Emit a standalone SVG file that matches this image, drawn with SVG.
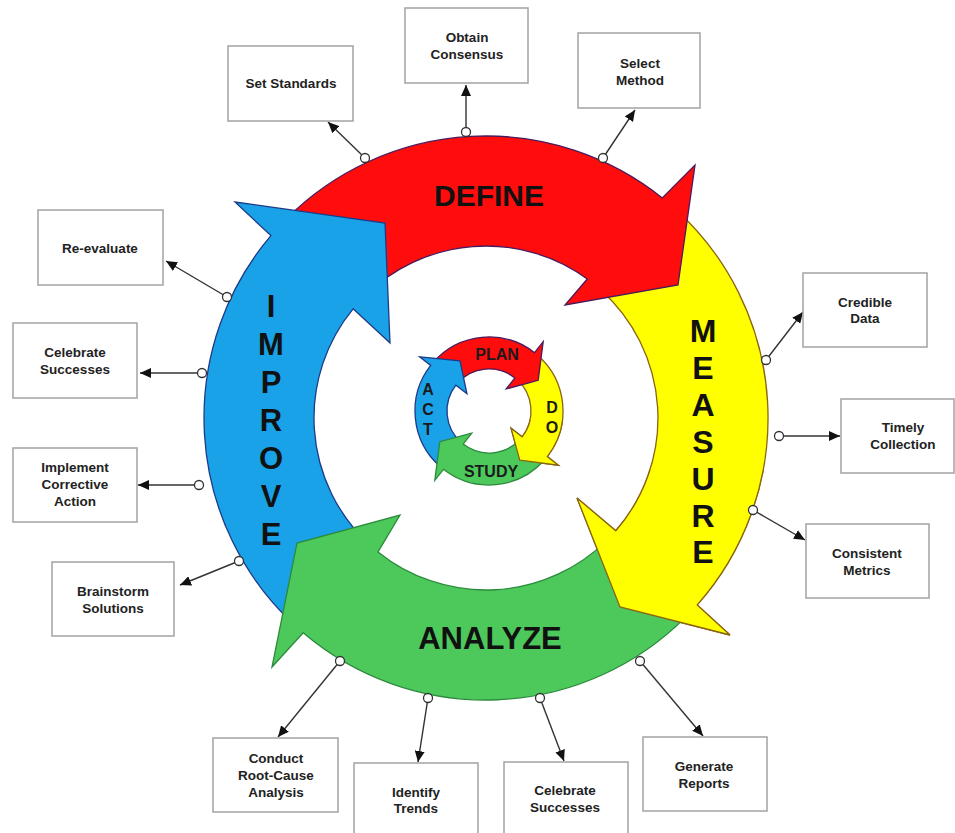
<svg xmlns="http://www.w3.org/2000/svg" width="955" height="833" viewBox="0 0 955 833">
<style>
.bg{fill:#ffffff}
.box rect{fill:#ffffff;stroke:#a3a3a3;stroke-width:1.5}
.box text{font-family:"Liberation Sans",Arial,sans-serif;font-weight:bold;font-size:13.5px;fill:#222;text-anchor:middle}
.red{fill:#ff0d0d;stroke:#4a1a5a;stroke-width:1.3;stroke-linejoin:miter}
.yel{fill:#ffff00;stroke:#8a6410;stroke-width:1.3}
.grn{fill:#4dc95c;stroke:#2c8a3c;stroke-width:1.3}
.blu{fill:#19a2e8;stroke:#1e3a86;stroke-width:1.3}
.big{font-family:"Liberation Sans",Arial,sans-serif;font-weight:bold;fill:#111;text-anchor:middle}
.sm{font-family:"Liberation Sans",Arial,sans-serif;font-weight:bold;font-size:16px;fill:#1a1a1a;text-anchor:middle}
.con line{stroke:#333;stroke-width:1.4;marker-end:url(#ah)}
.con circle{fill:#fff;stroke:#333;stroke-width:1.3}
</style>
<defs>
<marker id="ah" markerUnits="userSpaceOnUse" markerWidth="12" markerHeight="10" refX="11" refY="5" orient="auto">
<path d="M0,0 L11,5 L0,10 Z" fill="#111"/>
</marker>
<path id="bigY" class="yel" d="M674.7,208.4 A282,282 0 0 1 697.2,604.9 L730,635 L620,607 L577,498 L615.8,530.8 A172,172 0 0 0 601.1,290.2 Z"/>
<path id="smY" class="yel" d="M537.55,355.15 A74,74 0 0 1 547.31,456.56 L558.34,465.18 L519.73,460.18 L511.06,428.24 L522.1,436.86 A42,42 0 0 0 516.56,379.3 Z"/>
<clipPath id="clipBigY"><rect x="540" y="470" width="240" height="190"/></clipPath>
<clipPath id="clipSmY"><rect x="505" y="420" width="62" height="56"/></clipPath>
</defs>
<rect class="bg" x="0" y="0" width="955" height="833"/>

<g id="cycle">
<use href="#bigY"/>
<path id="define-arrow" class="red" d="M286.6,218.6 A282,282 0 0 1 662.3,197.9 L695,165 L678,285 L565,305 L587.3,279 A172,172 0 0 0 364.4,296.4 Z"/>
<path id="improve-arrow" class="blu" d="M293.7,624.2 A282,282 0 0 1 270.9,235.6 L235,202 L385,223 L390,343 L353.1,308.8 A172,172 0 0 0 368.7,543.8 Z"/>
<path id="analyze-arrow" class="grn" d="M685.4,617.4 A282,282 0 0 1 303.2,632.7 L272,667 L297,543 L400,515 L378,551.9 A172,172 0 0 0 607.6,539.6 Z"/>
<use href="#bigY" clip-path="url(#clipBigY)"/>
</g>

<g id="pdsa">
<use href="#smY"/>
<path class="red" d="M433.15,362.45 A74,74 0 0 1 534.56,352.69 L543.18,341.66 L538.18,380.27 L506.24,388.94 L514.86,377.9 A42,42 0 0 0 457.3,383.44 Z"/>
<path class="blu" d="M440.45,466.85 A74,74 0 0 1 430.69,365.44 L419.66,356.82 L460,360.77 L466.94,393.76 L455.9,385.14 A42,42 0 0 0 461.44,442.7 Z"/>
<path class="grn" d="M544.85,459.55 A74,74 0 0 1 443.44,469.31 L434.82,480.34 L439.82,441.73 L471.76,433.06 L463.14,444.1 A42,42 0 0 0 520.7,438.56 Z"/>
<use href="#smY" clip-path="url(#clipSmY)"/>
</g>

<g id="labels">
<text class="big" x="489" y="206" font-size="30">DEFINE</text>
<text class="big" x="490" y="649" font-size="31">ANALYZE</text>
<g class="big" font-size="32">
<text x="703" y="342">M</text><text x="703" y="379">E</text><text x="703" y="416">A</text><text x="703" y="453">S</text><text x="703" y="490">U</text><text x="703" y="527">R</text><text x="703" y="563">E</text>
</g>
<g class="big" font-size="31">
<text x="271" y="317">I</text><text x="271" y="355">M</text><text x="271" y="393">P</text><text x="271" y="431">R</text><text x="271" y="469">O</text><text x="271" y="507">V</text><text x="271" y="545">E</text>
</g>
<text class="sm" x="497" y="360">PLAN</text>
<text class="sm" x="552" y="413">D</text><text class="sm" x="552" y="433">O</text>
<text class="sm" x="428" y="395">A</text><text class="sm" x="428" y="415">C</text><text class="sm" x="428" y="435">T</text>
<text class="sm" x="491" y="477">STUDY</text>
</g>

<g id="connectors" class="con">
<line x1="365" y1="158" x2="328" y2="122"/><circle cx="365" cy="158" r="4.5"/>
<line x1="466" y1="132" x2="466" y2="85"/><circle cx="466" cy="132" r="4.5"/>
<line x1="603" y1="158" x2="635" y2="110"/><circle cx="603" cy="158" r="4.5"/>
<line x1="766" y1="360" x2="803" y2="312"/><circle cx="766" cy="360" r="4.5"/>
<line x1="779" y1="436" x2="840" y2="436"/><circle cx="779" cy="436" r="4.5"/>
<line x1="753" y1="510" x2="805" y2="540"/><circle cx="753" cy="510" r="4.5"/>
<line x1="640" y1="661" x2="703" y2="736"/><circle cx="640" cy="661" r="4.5"/>
<line x1="540" y1="698" x2="564" y2="761"/><circle cx="540" cy="698" r="4.5"/>
<line x1="428" y1="698" x2="418" y2="762"/><circle cx="428" cy="698" r="4.5"/>
<line x1="340" y1="661" x2="278" y2="737"/><circle cx="340" cy="661" r="4.5"/>
<line x1="239" y1="561" x2="180" y2="585"/><circle cx="239" cy="561" r="4.5"/>
<line x1="199" y1="485" x2="138" y2="485"/><circle cx="199" cy="485" r="4.5"/>
<line x1="202" y1="373" x2="140" y2="373"/><circle cx="202" cy="373" r="4.5"/>
<line x1="227" y1="297" x2="166" y2="261"/><circle cx="227" cy="297" r="4.5"/>
</g>

<g id="set-standards" class="box"><rect x="228" y="46" width="125" height="75"/><text x="291" y="88">Set Standards</text></g>
<g id="obtain-consensus" class="box"><rect x="405" y="8" width="123" height="75"/><text x="467" y="42">Obtain</text><text x="467" y="59">Consensus</text></g>
<g id="select-method" class="box"><rect x="578" y="33" width="122" height="75"/><text x="640" y="68">Select</text><text x="640" y="85">Method</text></g>
<g id="credible-data" class="box"><rect x="803" y="273" width="124" height="74"/><text x="865" y="307">Credible</text><text x="865" y="323">Data</text></g>
<g id="timely-collection" class="box"><rect x="841" y="399" width="113" height="74"/><text x="903" y="432">Timely</text><text x="903" y="449">Collection</text></g>
<g id="consistent-metrics" class="box"><rect x="806" y="524" width="123" height="74"/><text x="867" y="558">Consistent</text><text x="867" y="575">Metrics</text></g>
<g id="generate-reports" class="box"><rect x="643" y="737" width="124" height="74"/><text x="704" y="771">Generate</text><text x="704" y="788">Reports</text></g>
<g id="celebrate-successes-bottom" class="box"><rect x="504" y="762" width="124" height="76"/><text x="565" y="795">Celebrate</text><text x="565" y="812">Successes</text></g>
<g id="identify-trends" class="box"><rect x="354" y="763" width="124" height="76"/><text x="416" y="797">Identify</text><text x="416" y="813">Trends</text></g>
<g id="conduct-rca" class="box"><rect x="213" y="738" width="125" height="74"/><text x="276" y="763">Conduct</text><text x="276" y="780">Root-Cause</text><text x="276" y="797">Analysis</text></g>
<g id="brainstorm-solutions" class="box"><rect x="52" y="562" width="122" height="74"/><text x="113" y="596">Brainstorm</text><text x="113" y="613">Solutions</text></g>
<g id="implement-corrective-action" class="box"><rect x="13" y="448" width="124" height="74"/><text x="75" y="472">Implement</text><text x="75" y="489">Corrective</text><text x="75" y="506">Action</text></g>
<g id="celebrate-successes-left" class="box"><rect x="13" y="323" width="124" height="75"/><text x="75" y="357">Celebrate</text><text x="75" y="374">Successes</text></g>
<g id="re-evaluate" class="box"><rect x="38" y="210" width="125" height="75"/><text x="100" y="253">Re-evaluate</text></g>
</svg>
